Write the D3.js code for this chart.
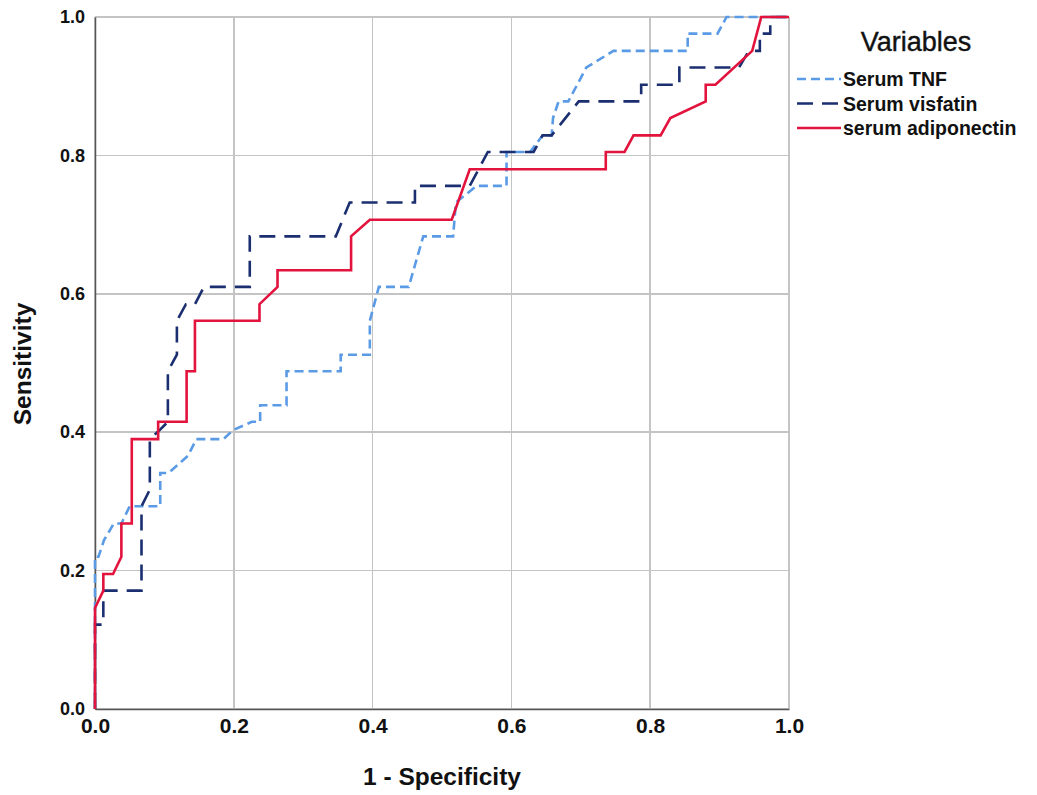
<!DOCTYPE html>
<html>
<head>
<meta charset="utf-8">
<script src="https://cdnjs.cloudflare.com/ajax/libs/d3/7.8.5/d3.min.js"></script>
<style>
    body { margin: 0; background: #fff; }
    svg { font-family: "Liberation Sans", Arial, sans-serif; }
    .grid line { stroke: #c4c4c4; stroke-width: 1.5; shape-rendering: crispEdges; }
    .axis path, .axis line { stroke: #555; stroke-width: 1.5; }
    .roc { fill: none; stroke-width: 2.6; stroke-linejoin: miter; }
</style>
</head>
<body>
<svg id="chart" width="1037" height="795"></svg>
<script>
// tick values on both axes
var ticks = [0, 0.2, 0.4, 0.6, 0.8, 1.0];

// legend entries
var seriesNames = ["Serum TNF", "Serum visfatin", "serum adiponectin"];
var seriesColors = ["#5b9be6", "#1b2f70", "#e2133d"];
var seriesDash = ["9,5", "16,9", null];

// ROC points: [1 - specificity, sensitivity]
var tnf = [
    [0, 0], [0, 0.220], [0.005, 0.220], [0.013, 0.244], [0.027, 0.268], [0.038, 0.268],
    [0.050, 0.293], [0.094, 0.293], [0.094, 0.341], [0.106, 0.341], [0.134, 0.366],
    [0.146, 0.390], [0.185, 0.390], [0.199, 0.403], [0.226, 0.415], [0.238, 0.415],
    [0.238, 0.439], [0.276, 0.439], [0.276, 0.488], [0.354, 0.488], [0.354, 0.512],
    [0.396, 0.512], [0.396, 0.561], [0.409, 0.610], [0.452, 0.610], [0.473, 0.683],
    [0.516, 0.683], [0.520, 0.732], [0.550, 0.756], [0.593, 0.756], [0.593, 0.805],
    [0.627, 0.805], [0.645, 0.829], [0.658, 0.829], [0.660, 0.854], [0.668, 0.878],
    [0.682, 0.878], [0.708, 0.927], [0.747, 0.951], [0.854, 0.951], [0.854, 0.976],
    [0.897, 0.976], [0.910, 1.0], [1, 1]
];

var visfatin = [
    [0, 0], [0, 0.122], [0.012, 0.122], [0.012, 0.171], [0.067, 0.171], [0.067, 0.293],
    [0.079, 0.317], [0.079, 0.390], [0.092, 0.402], [0.105, 0.415], [0.105, 0.488],
    [0.118, 0.512], [0.118, 0.561], [0.131, 0.585], [0.144, 0.585], [0.157, 0.610],
    [0.223, 0.610], [0.223, 0.683], [0.347, 0.683], [0.367, 0.732], [0.461, 0.732],
    [0.461, 0.756], [0.540, 0.756], [0.566, 0.805], [0.632, 0.805], [0.645, 0.829],
    [0.658, 0.829], [0.697, 0.878], [0.787, 0.878], [0.787, 0.902], [0.842, 0.902],
    [0.842, 0.927], [0.928, 0.927], [0.942, 0.951], [0.958, 0.951], [0.958, 0.976],
    [0.973, 0.976], [0.973, 1.0], [1, 1]
];

var adiponectin = [
    [0, 0], [0, 0.146], [0.012, 0.171], [0.012, 0.195], [0.026, 0.195], [0.038, 0.220],
    [0.038, 0.268], [0.053, 0.268], [0.053, 0.390], [0.091, 0.390], [0.091, 0.415],
    [0.132, 0.415], [0.132, 0.488], [0.144, 0.488], [0.144, 0.561], [0.237, 0.561],
    [0.237, 0.585], [0.263, 0.610], [0.263, 0.634], [0.369, 0.634], [0.369, 0.683],
    [0.396, 0.707], [0.514, 0.707], [0.540, 0.780], [0.736, 0.780], [0.736, 0.805],
    [0.763, 0.805], [0.776, 0.829], [0.815, 0.829], [0.829, 0.854], [0.880, 0.878],
    [0.880, 0.902], [0.894, 0.902], [0.947, 0.951], [0.960, 1.0], [1, 1]
];

var allSeries = [tnf, visfatin, adiponectin];

var svg = d3.select("#chart");
var margin = {top: 17, left: 95};
var width = 694, height = 692;

var x = d3.scaleLinear().domain([0, 1]).range([margin.left, margin.left + width]);
var y = d3.scaleLinear().domain([0, 1]).range([margin.top + height, margin.top]);

//Grid lines at every tick, including the 1.0 edges.
var grid = svg.append("g").attr("class", "grid");
grid.selectAll(".vx").data(ticks).enter().append("line")
    .attr("x1", function(d) { return x(d); }).attr("x2", function(d) { return x(d); })
    .attr("y1", y(0)).attr("y2", y(1));
grid.selectAll(".hy").data(ticks).enter().append("line")
    .attr("x1", x(0)).attr("x2", x(1))
    .attr("y1", function(d) { return y(d); }).attr("y2", function(d) { return y(d); });

//Axes
var fmt = d3.format(".1f");
var yAxis = svg.append("g").attr("class", "axis")
    .attr("transform", "translate(" + x(0) + ",0)")
    .call(d3.axisLeft(y).tickValues(ticks).tickFormat(fmt).tickSize(0).tickPadding(10));
yAxis.selectAll("text").attr("font-size", 18).attr("font-weight", "bold").attr("fill", "#111")
    .attr("font-family", "Liberation Sans, Arial, sans-serif");

var xAxis = svg.append("g").attr("class", "axis")
    .attr("transform", "translate(0," + y(0) + ")")
    .call(d3.axisBottom(x).tickValues(ticks).tickFormat(fmt).tickSize(0).tickPadding(9));
xAxis.selectAll("text").attr("font-size", 21).attr("font-weight", "bold").attr("fill", "#111")
    .attr("font-family", "Liberation Sans, Arial, sans-serif");
svg.selectAll(".axis .domain").attr("stroke", "#555").attr("stroke-width", 1.8);

//Axis titles
svg.append("text")
    .attr("x", x(0.5)).attr("y", 785)
    .attr("text-anchor", "middle")
    .attr("font-size", 24.5).attr("font-weight", "bold").attr("fill", "#111")
    .text("1 - Specificity");

svg.append("text")
    .attr("transform", "translate(31," + (y(0.5) + 1) + ") rotate(-90)")
    .attr("text-anchor", "middle")
    .attr("font-size", 24.5).attr("font-weight", "bold").attr("fill", "#111")
    .text("Sensitivity");

//ROC curves
var line = d3.line()
    .x(function(d) { return x(d[0]); })
    .y(function(d) { return y(d[1]); });

svg.append("g").selectAll("path")
    .data(allSeries)
    .enter().append("path")
    .attr("class", "roc")
    .attr("d", line)
    .attr("stroke", function(d, i) { return seriesColors[i]; })
    .attr("stroke-dasharray", function(d, i) { return seriesDash[i]; });

//Legend
var legend = svg.append("g").attr("transform", "translate(797,0)");
legend.append("text")
    .attr("x", 119).attr("y", 51)
    .attr("text-anchor", "middle")
    .attr("font-size", 27).attr("fill", "#111")
    .attr("stroke", "#111").attr("stroke-width", 0.4)
    .text("Variables");

var item = legend.selectAll(".item")
    .data(seriesNames)
    .enter().append("g")
    .attr("transform", function(d, i) { return "translate(0," + (79 + i * 24.5) + ")"; });

item.append("line")
    .attr("x1", 0).attr("x2", 44)
    .attr("stroke", function(d, i) { return seriesColors[i]; })
    .attr("stroke-width", 2.6)
    .attr("stroke-dasharray", function(d, i) { return seriesDash[i]; });

item.append("text")
    .attr("x", 46).attr("y", 7)
    .attr("font-size", 19.5).attr("font-weight", "bold").attr("fill", "#111")
    .text(function(d) { return d; });
</script>
</body>
</html>
